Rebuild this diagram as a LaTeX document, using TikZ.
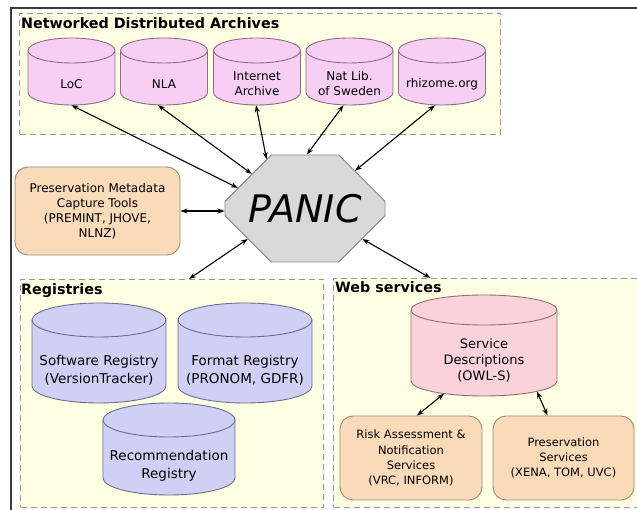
\documentclass[tikz,border=0pt]{standalone}
\usepackage{fontspec}
\setmainfont{DejaVu Sans}
\usetikzlibrary{arrows.meta,shapes.misc}

\definecolor{grpfill}{HTML}{FEFEE3}
\definecolor{grpdraw}{HTML}{959595}
\definecolor{archfill}{HTML}{F7CFF5}
\definecolor{archdraw}{HTML}{8A6E88}
\definecolor{regfill}{HTML}{CFD0F4}
\definecolor{regdraw}{HTML}{6E6F8C}
\definecolor{sdfill}{HTML}{F9D2DA}
\definecolor{sddraw}{HTML}{8E7074}
\definecolor{orfill}{HTML}{F9DAB9}
\definecolor{ordraw}{HTML}{9A8A7A}
\definecolor{octfill}{HTML}{D9D9D9}
\definecolor{octdraw}{HTML}{8A8A8A}
\definecolor{framecol}{HTML}{3C3C3C}

\newcommand\dbcyl[9]{%
  \pgfmathsetmacro\cyT{510-#3}%
  \pgfmathsetmacro\cyB{510-#4}%
  \pgfmathsetmacro\cyL{#2-#5}%
  \pgfmathsetmacro\cyR{#2+#5}%
  \pgfmathsetmacro\cyTc{\cyT-#6}%
  \pgfmathsetmacro\cyBc{\cyB+#6}%
  \pgfmathsetmacro\cyNT{\cyT-2*#6}%
  \pgfmathsetmacro\cyMid{(\cyNT+\cyB)/2}%
  \pgfmathsetmacro\cyH{\cyNT-\cyB}%
  \path[#7] (\cyL,\cyTc) -- (\cyL,\cyBc)
    arc[start angle=180,end angle=360,x radius=#5,y radius=#6]
    -- (\cyR,\cyTc)
    arc[start angle=0,end angle=180,x radius=#5,y radius=#6] -- cycle;
  \draw[#7,fill=none] (\cyL,\cyTc) arc[start angle=180,end angle=360,x radius=#5,y radius=#6];
  \node[#8, minimum width=2*#5, minimum height=\cyH] (#1) at (#2,\cyMid) {#9};
}

\tikzset{
  x=1pt, y=1pt,
  group/.style={draw=grpdraw, fill=grpfill, dashed, dash pattern=on 6pt off 4pt, line width=1pt, inner sep=0pt},
  gtitle/.style={anchor=base west, inner sep=0pt, font=\bfseries\fontsize{14.3}{17}\selectfont},
  archcyl/.style={fill=archfill, draw=archdraw, line width=0.9pt},
  regcyl/.style={fill=regfill, draw=regdraw, line width=0.9pt},
  sdcyl/.style={fill=sdfill, draw=sddraw, line width=0.9pt},
  archtxt/.style={inner sep=0pt, align=center, font=\fontsize{12}{15}\selectfont},
  regtxt/.style={inner sep=0pt, align=center, font=\fontsize{13.5}{18}\selectfont},
  sdtxt/.style={inner sep=0pt, align=center, font=\fontsize{13}{16}\selectfont},
  orbox/.style={draw=ordraw, fill=orfill, line width=0.9pt, rounded corners=13pt, align=center, inner sep=0pt},
  octo/.style={chamfered rectangle, chamfered rectangle xsep=37pt, chamfered rectangle ysep=32pt,
     draw=octdraw, fill=octfill, line width=0.9pt, minimum width=160pt, minimum height=107pt, inner sep=0pt,
     font=\itshape\fontsize{38}{40}\selectfont},
  arr/.style={{Stealth[length=7pt,width=5pt]}-{Stealth[length=7pt,width=5pt]}, line width=1.1pt, black},
}

\begin{document}
\begin{tikzpicture}
\useasboundingbox (0,0) rectangle (637,510);
\clip (0,0) rectangle (637,510);
\fill[white] (0,0) rectangle (637,510);

% outer frame
\draw[framecol, line width=2.5pt] (11,-20) -- (11,502) -- (660,502);

% groups
\node[group, anchor=north west, minimum width=481pt, minimum height=121pt] (archgrp) at (19,497) {};
\node[group, anchor=north west, minimum width=303pt, minimum height=228pt] (reg) at (20,231) {};
\node[group, anchor=north west, minimum width=312pt, minimum height=229pt] (web) at (333,232) {};

\node[gtitle] (t1) at (21,481.5) {Networked Distributed Archives};
\node[gtitle] (t2) at (21,215) {Registries};
\node[gtitle] (t3) at (335,217) {Web services};

% archive cylinders
\dbcyl{loc}{71.5}{38}{105}{43.5}{12.5}{archcyl}{archtxt}{LoC}
\dbcyl{nla}{164}{38}{105}{43.5}{12.5}{archcyl}{archtxt}{NLA}
\dbcyl{ia}{257}{38}{105}{43.5}{12.5}{archcyl}{archtxt}{Internet\\Archive}
\dbcyl{natlib}{349.5}{38}{105}{43.5}{12.5}{archcyl}{archtxt}{Nat Lib.\\of Sweden}
\dbcyl{rhiz}{442}{38}{105}{43.5}{12.5}{archcyl}{archtxt}{rhizome.org}

% registries
\dbcyl{soft}{99}{303}{403}{67}{17}{regcyl}{regtxt}{Software Registry\\(VersionTracker)}
\dbcyl{fmt}{245}{303}{403}{67}{17}{regcyl}{regtxt}{Format Registry\\(PRONOM, GDFR)}
\dbcyl{rec}{169}{403}{495}{66}{17}{regcyl}{regtxt}{Recommendation\\Registry}

% web services
\dbcyl{sd}{484}{295}{396}{73}{15}{sdcyl}{sdtxt}{Service\\Descriptions\\(OWL-S)}

\node[orbox, minimum width=165pt, minimum height=88pt, font=\fontsize{12}{15}\selectfont] (pmct) at (97.5,299)
  {Preservation Metadata\\Capture Tools\\(PREMINT, JHOVE,\\NLNZ)};
\node[orbox, minimum width=142pt, minimum height=84pt, font=\fontsize{11.5}{15.2}\selectfont] (risk) at (411,52)
  {Risk Assessment \&\\Notification\\Services\\(VRC, INFORM)};
\node[orbox, minimum width=141pt, minimum height=84pt, font=\fontsize{11.5}{15.2}\selectfont] (pres) at (563.5,52)
  {Preservation\\Services\\(XENA, TOM, UVC)};

% PANIC
\node[octo] (panic) at (305,301.5) {PANIC};

% connectors
\draw[arr] (loc.south) -- (panic.163);
\draw[arr] ([xshift=-6pt]nla.south) -- (panic.147);
\draw[arr] ([xshift=-1pt]ia.south) -- (panic.128);
\draw[arr] ([xshift=-6pt]natlib.south) -- (panic.88);
\draw[arr] ([xshift=-7pt]rhiz.south) -- (panic.37);
\draw[arr] (pmct.east) -- (pmct.east -| panic.west);
\draw[arr] (panic.208) -- ([xshift=17pt]reg.north);
\draw[arr] (panic.332) -- ([xshift=-59pt]web.north);
\draw[arr] ([xshift=-40pt,yshift=2.5pt]sd.south) -- ([xshift=6pt]risk.north);
\draw[arr] ([xshift=53pt,yshift=4.7pt]sd.south) -- ([xshift=-16pt]pres.north);
\end{tikzpicture}
\end{document}
